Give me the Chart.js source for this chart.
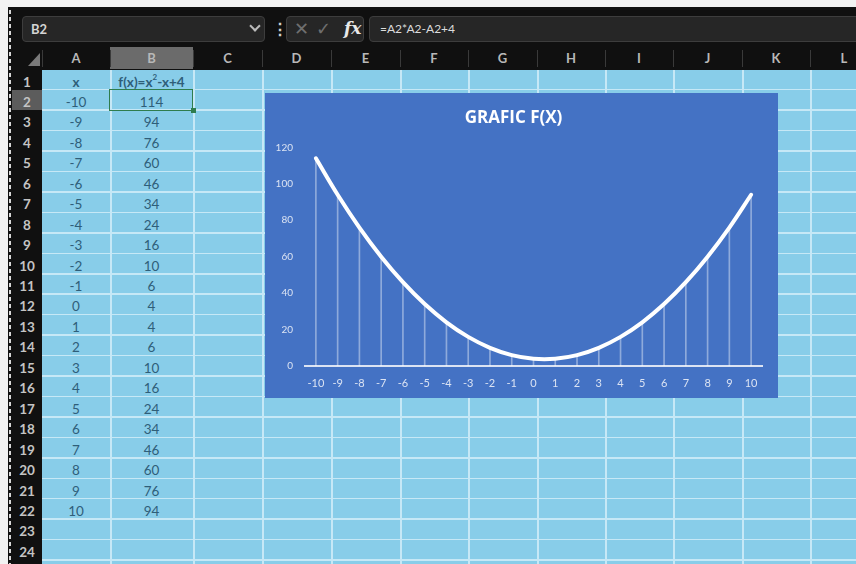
<!DOCTYPE html>
<html>
<head>
<meta charset="utf-8">
<script src="https://cdn.jsdelivr.net/npm/chart.js@4"></script>
<style>
  body { margin: 0; width: 856px; height: 564px; overflow: hidden; background: #f2f2f2; position: relative; font-family: Lato, "Open Sans", sans-serif; }
  .abs { position: absolute; }
  #dark { left: 8px; top: 7px; width: 848px; height: 557px; background: #101010; }
  #dash { left: 9px; top: 10px; width: 2px; height: 554px; background: repeating-linear-gradient(to bottom, #d8d8d8 0 4px, transparent 4px 7px); }
  .box { background: #262626; border: 1px solid #3d3d3d; border-radius: 4px; box-sizing: border-box; }
  #cells { left: 42px; top: 69.5px; width: 814px; height: 495px; background: #88cde9; overflow: hidden; }
  .hline { left: 0; width: 814px; height: 1.5px; background: #c6e8f6; }
  .vline { top: 0; width: 1.5px; height: 495px; background: #c6e8f6; }
  .ctext { color: #2f5e79; font-size: 13.5px; text-align: center; line-height: 24px; }
  .rowhead { left: 12px; width: 30px; color: #c4c4c4; font-size: 13.5px; font-weight: bold; text-align: center; line-height: 24px; }
  .colhead { top: 47px; height: 22px; color: #b8b8b8; font-size: 13px; font-weight: bold; text-align: center; line-height: 22px; }
  .hsep { top: 50px; width: 1px; height: 17px; background: #3a3a3a; }
  sup { font-size: 8px; line-height: 0; position: relative; top: -1px; }
  #chartBox { left: 265px; top: 93px; width: 513px; height: 305px; background: #4472c4; }
</style>
</head>
<body>
<div class="abs" id="dark"></div>
<div class="abs" id="dash"></div>

<!-- formula bar -->
<div class="abs box" style="left:22px;top:16px;width:243px;height:26px;"></div>
<div class="abs" style="left:31px;top:16px;line-height:26px;color:#d4d4d4;font-size:13px;font-weight:bold;">B2</div>
<div class="abs" style="left:251px;top:22px;width:6px;height:6px;border-right:2px solid #bbb;border-bottom:2px solid #bbb;transform:rotate(45deg);"></div>
<div class="abs" style="left:272px;top:16px;line-height:26px;color:#cfcfcf;font-size:16px;font-weight:bold;">⋮</div>
<div class="abs box" style="left:286px;top:16px;width:78px;height:26px;"></div>
<div class="abs" style="left:294px;top:15px;line-height:26px;color:#6f6f6f;font-size:18px;">✕</div>
<div class="abs" style="left:316px;top:15px;line-height:26px;color:#6f6f6f;font-size:18px;">✓</div>
<div class="abs" style="left:344px;top:15px;line-height:26px;color:#e8e8e8;font-size:17px;font-style:italic;font-weight:bold;font-family:'DejaVu Serif',serif;">fx</div>
<div class="abs box" style="left:369px;top:16px;width:500px;height:26px;"></div>
<div class="abs" style="left:380px;top:16px;line-height:26px;color:#dcdcdc;font-size:12px;">=A2*A2-A2+4</div>

<!-- corner triangle -->
<div class="abs" style="left:28px;top:53px;width:0;height:0;border-left:12px solid transparent;border-bottom:13px solid #7a7a7a;"></div>

<div class="abs" id="cells"></div>
<div class="abs" id="chartBox"><canvas id="grafic" width="513" height="305"></canvas></div>

<script>
// values read from the sheet
const xLabels = ['-10', '-9', '-8', '-7', '-6', '-5', '-4', '-3', '-2', '-1', '0', '1', '2', '3', '4', '5', '6', '7', '8', '9', '10'];
const fValues = [114, 94, 76, 60, 46, 34, 24, 16, 10, 6, 4, 4, 6, 10, 16, 24, 34, 46, 60, 76, 94];
const yTicks = [0, 20, 40, 60, 80, 100, 120];

const colNames = ['A', 'B', 'C', 'D', 'E', 'F', 'G', 'H', 'I', 'J', 'K', 'L'];
const colEdges = [42, 110, 193, 262, 331, 400, 468, 537, 605, 673, 742, 810, 878];
const rowTop0 = 69.5;
const rowH = 20.45;
const rowCount = 24;

// spreadsheet grid
const cells = document.getElementById('cells');
function add(parent, cls, style, html) {
    const d = document.createElement('div');
    d.className = 'abs ' + cls;
    Object.assign(d.style, style);
    if (html !== undefined) d.innerHTML = html;
    parent.appendChild(d);
    return d;
}

for (let i = 1; i <= rowCount; i++) {
    add(cells, 'hline', { top: (i * rowH - 1) + 'px' });
}
for (let c = 1; c < colEdges.length - 1; c++) {
    add(cells, 'vline', { left: (colEdges[c] - 42) + 'px' });
}

// column headers
add(document.body, '', { left: '110px', top: '47px', width: '83px', height: '22px', background: '#6b6b6b' });
colNames.forEach((n, c) => {
    add(document.body, 'colhead', { left: colEdges[c] + 'px', width: (colEdges[c + 1] - colEdges[c]) + 'px' }, n);
    add(document.body, 'hsep', { left: colEdges[c] + 'px' });
});

// row headers
add(document.body, '', { left: '12px', top: (rowTop0 + rowH) + 'px', width: '30px', height: rowH + 'px', background: '#5c5c5c' });
for (let i = 1; i <= rowCount; i++) {
    add(document.body, 'rowhead', { top: (rowTop0 + (i - 1) * rowH) + 'px' }, String(i));
}

// cell contents
function cellText(col, row, html, bold) {
    add(cells, 'ctext', {
        left: (colEdges[col] - 42) + 'px',
        width: (colEdges[col + 1] - colEdges[col]) + 'px',
        top: ((row - 1) * rowH) + 'px',
        fontWeight: bold ? 'bold' : 'normal'
    }, html);
}
cellText(0, 1, 'x', true);
cellText(1, 1, 'f(x)=x<sup>2</sup>-x+4', true);
xLabels.forEach((x, i) => {
    cellText(0, i + 2, x);
    cellText(1, i + 2, String(fValues[i]));
});

// selected cell B2
add(cells, '', { left: '67px', top: (rowH - 1) + 'px', width: '84px', height: (rowH + 1.5) + 'px', border: '1.5px solid #2f7d4e', boxSizing: 'border-box' });
add(cells, '', { left: '149px', top: (2 * rowH - 2.5) + 'px', width: '5px', height: '5px', background: '#2f7d4e' });

// chart
const axisColor = '#dbe3f3';
new Chart(document.getElementById('grafic').getContext('2d'), {
    type: 'bar',
    data: {
        labels: xLabels,
        datasets: [{
            type: 'line',
            data: fValues,
            borderColor: '#ffffff',
            borderWidth: 4,
            tension: 0.4,
            pointRadius: 0,
            borderCapStyle: 'round'
        }, {
            type: 'bar',
            data: fValues,
            backgroundColor: 'rgba(255, 255, 255, 0.4)',
            barThickness: 1
        }]
    },
    options: {
        responsive: false,
        animation: false,
        devicePixelRatio: 1,
        layout: { padding: { left: 0, right: 16, top: 0, bottom: 0 } },
        plugins: {
            legend: { display: false },
            tooltip: { enabled: false },
            title: {
                display: true,
                text: 'GRAFIC F(X)',
                color: '#ffffff',
                font: { family: 'Open Sans', size: 17, weight: 'bold', lineHeight: 1.2 },
                padding: { top: 15, bottom: 19 }
            }
        },
        scales: {
            x: {
                grid: { display: false, drawTicks: false },
                border: { display: true, color: axisColor, width: 2 },
                ticks: { color: axisColor, font: { family: 'Lato', size: 11 }, padding: 11, autoSkip: false, maxRotation: 0 },
                afterFit: s => { s.height = 32; }
            },
            y: {
                min: 0,
                max: 120,
                grid: { display: false, drawTicks: false },
                border: { display: false },
                afterBuildTicks: s => { s.ticks = yTicks.map(v => ({ value: v })); },
                ticks: { color: axisColor, font: { family: 'Lato', size: 10 }, padding: 12 },
                afterFit: s => { s.width = 40; }
            }
        }
    }
});
</script>
</body>
</html>
